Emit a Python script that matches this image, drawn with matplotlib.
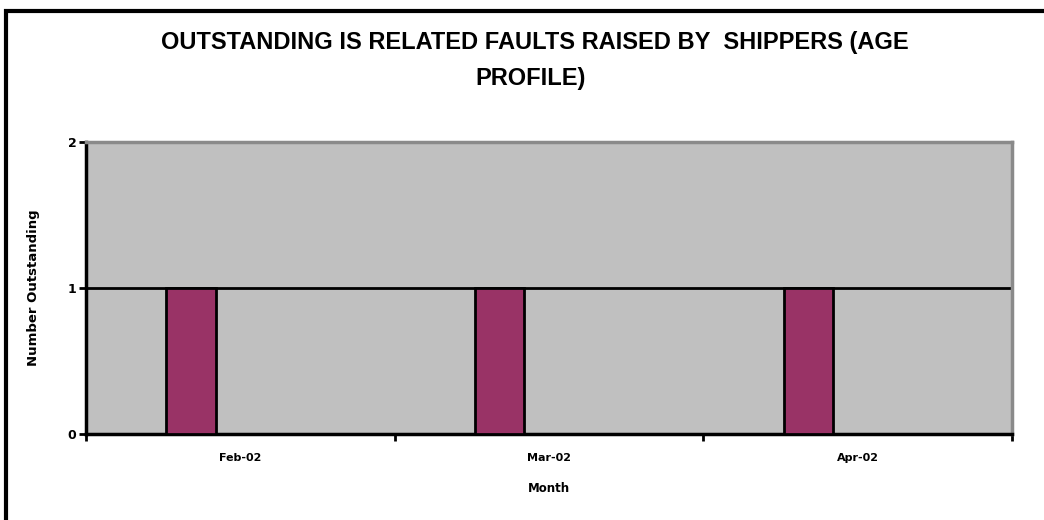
import matplotlib
matplotlib.use("Agg")
import matplotlib.pyplot as plt
import numpy as np
from matplotlib.patches import Rectangle

months = ["Feb-02", "Mar-02", "Apr-02"]
outstanding = [1, 1, 1]
title_lines = ["OUTSTANDING IS RELATED FAULTS RAISED BY  SHIPPERS (AGE", "PROFILE)"]

plt.rcParams['font.family'] = ['Liberation Sans', 'DejaVu Sans']

fig = plt.figure(figsize=(10.44, 5.2), dpi=100)
# outer chart-area border (cut off at right and bottom in the original)
fig.patches.append(Rectangle((0.006, -0.05), 1.1, 1.029, transform=fig.transFigure,
                             fill=False, edgecolor='black', linewidth=3, zorder=0))

ax = fig.add_axes([0.0824, 0.1654, 0.887, 0.5615])
ax.set_facecolor('#c0c0c0')

x = np.arange(len(months))
ax.bar(x - 0.16, outstanding, width=0.16, color='#993366', edgecolor='black',
       linewidth=2, zorder=3)

ax.set_xlim(-0.5, len(months) - 0.5)
ax.set_ylim(0, 2)
ax.set_yticks([0, 1, 2])
ax.set_yticklabels(['0', '1', '2'], fontsize=9, fontweight='bold', family='DejaVu Sans')
ax.yaxis.grid(True, color='black', linewidth=2, zorder=1)
ax.set_axisbelow(True)

ax.set_xticks(x)
ax.set_xticklabels(months, fontsize=8, fontweight='bold', family='DejaVu Sans')
ax.set_xticks(np.arange(len(months) + 1) - 0.5, minor=True)
ax.tick_params(axis='x', which='major', length=0, pad=13.5)
ax.tick_params(axis='x', which='minor', length=5, width=2, direction='out')
ax.tick_params(axis='y', length=5, width=2, pad=2)

for side in ['left', 'bottom']:
    ax.spines[side].set_linewidth(2.5)
    ax.spines[side].set_color('black')
for side in ['top', 'right']:
    ax.spines[side].set_linewidth(2.5)
    ax.spines[side].set_color('#8a8a8a')

ax.set_xlabel("Month", fontsize=8.5, fontweight='bold', family='DejaVu Sans', labelpad=14)
ax.set_ylabel("Number Outstanding", fontsize=9.5, fontweight='bold', family='DejaVu Sans')
ax.yaxis.set_label_coords((40 - 86) / (0.887 * 1044), 0.5)

fig.text(0.5125, 0.919, title_lines[0], ha='center', va='center', fontsize=17,
         fontweight='bold')
fig.text(0.508, 0.85, title_lines[1], ha='center', va='center', fontsize=17,
         fontweight='bold')

fig.savefig("out.png", dpi=100)
